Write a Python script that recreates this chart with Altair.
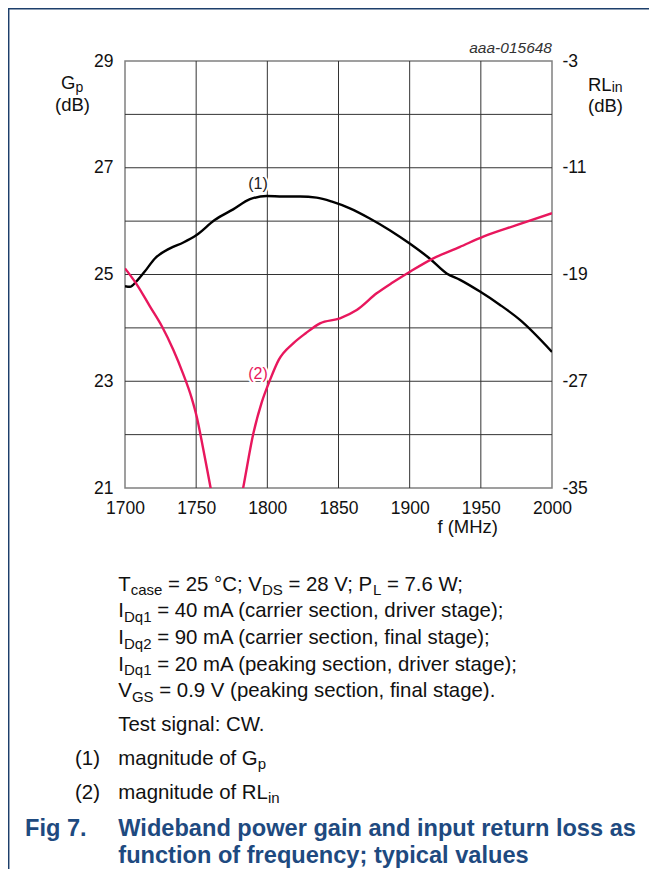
import altair as alt
import pandas as pd

# ---------------- data ----------------
gp_freq = [1700, 1703.5, 1708, 1714, 1721, 1731.6, 1741, 1750.3, 1763, 1776, 1787.8,
           1799.5, 1811, 1823, 1834.6, 1846, 1858, 1872, 1886, 1900, 1914, 1926,
           1935.4, 1949.4, 1963.5, 1977.5, 2000]
gp_db = [24.78, 24.77, 24.87, 25.06, 25.30, 25.49, 25.60, 25.74, 26.02, 26.22, 26.41,
         26.47, 26.46, 26.46, 26.44, 26.36, 26.24, 26.05, 25.83, 25.58, 25.30, 25.02,
         24.90, 24.68, 24.43, 24.15, 23.55]

rl_freq = [1700, 1708, 1717.6, 1726, 1734, 1740.5, 1746.9, 1750.4, 1755, 1760, 1771.5,
           1783, 1790.2, 1796, 1801.9, 1808, 1818.2, 1827, 1837, 1851, 1862.8, 1876.8,
           1888, 1900.2, 1916.6, 1935, 1951.7, 1975, 2000]
rl_db = [-18.54, -19.7, -21.41, -22.9, -24.66, -26.35, -28.28, -29.66, -32.1, -34.9, -41.0,
         -35.0, -30.9, -28.6, -26.9, -25.4, -24.16, -23.4, -22.66, -22.28, -21.66, -20.41,
         -19.6, -18.79, -17.79, -16.95, -16.16, -15.3, -14.41]

x_ticks = [1700, 1750, 1800, 1850, 1900, 1950, 2000]
gp_ticks = [21, 23, 25, 27, 29]
rl_ticks = [-35, -27, -19, -11, -3]
x_grid = [1750, 1800, 1850, 1900, 1950]
y_grid = [22, 23, 24, 25, 26, 27, 28]

caption_lines = [
    [("T", "n"), ("case", "s"), (" = 25 \u00b0C; V", "n"), ("DS", "s"),
     (" = 28 V; P", "n"), ("L", "s"), (" = 7.6 W;", "n")],
    [("I", "n"), ("Dq1", "s"), (" = 40 mA (carrier section, driver stage);", "n")],
    [("I", "n"), ("Dq2", "s"), (" = 90 mA (carrier section, final stage);", "n")],
    [("I", "n"), ("Dq1", "s"), (" = 20 mA (peaking section, driver stage);", "n")],
    [("V", "n"), ("GS", "s"), (" = 0.9 V (peaking section, final stage).", "n")],
    [("Test signal: CW.", "n")],
    [("magnitude of G", "n"), ("p", "s")],
    [("magnitude of RL", "n"), ("in", "s")],
]
caption_baselines = [529.7, 556.3, 583.0, 609.7, 636.2, 670.0, 703.5, 737.5]
note_marks = [("(1)", 703.5), ("(2)", 737.5)]
fig_label = "Fig 7."
fig_title = ["Wideband power gain and input return loss as",
             "function of frequency; typical values"]
fig_baselines = [775.0, 801.5]

# ---------------- style / layout ----------------
FONT = "Liberation Sans"
NAVY = "#1e4a80"
PINK = "#e8175d"
W = H = 427
PAD_L, PAD_T = 117, 53
TOTAL_W, TOTAL_H = 641, 861
BODY = 20.4
SUB = 15
BOLD = 23.6

# Arial / Liberation Sans advance widths (per 1000 em)
AW = {' ': 278, '(': 333, ')': 333, ';': 278, ':': 278, '.': 278, ',': 278, '=': 584,
      '\u00b0': 400, '-': 333}
for ch in "0123456789":
    AW[ch] = 556
AW.update(dict(zip("ABCDEFGHIJKLMNOPQRSTUVWXYZ",
                   [667, 667, 722, 722, 667, 611, 778, 722, 278, 500, 667, 556, 833,
                    722, 778, 667, 778, 722, 667, 611, 722, 667, 944, 667, 667, 611])))
AW.update(dict(zip("abcdefghijklmnopqrstuvwxyz",
                   [556, 556, 500, 556, 556, 278, 556, 556, 222, 222, 500, 222, 833,
                    556, 556, 556, 556, 333, 500, 278, 556, 500, 722, 500, 500, 500])))


def text_width(s, size):
    return sum(AW.get(c, 556) for c in s) * size / 1000.0


dummy = pd.DataFrame({"d": [0]})


def txt(s, x, y, size, color="#111111", weight="normal", align="left", style="normal",
        stroke=None):
    kw = dict(text=s, fontSize=size, font=FONT, color=color, align=align,
              baseline="alphabetic", fontWeight=weight, fontStyle=style)
    if stroke:
        kw.update(stroke=stroke, strokeWidth=4, strokeJoin="round")
    return alt.Chart(dummy).mark_text(**kw).encode(x=alt.value(x), y=alt.value(y))


xs = alt.Scale(domain=[1700, 2000], nice=False, zero=False)
gs = alt.Scale(domain=[21, 29], nice=False, zero=False)
rs = alt.Scale(domain=[-35, -3], nice=False, zero=False)

common = dict(grid=False, ticks=False, tickSize=0, domain=False, labelFlush=False,
              labelFontSize=17.5, labelExpr="'' + datum.value")
x_axis = alt.Axis(values=x_ticks, labelPadding=11, **common)
gp_axis = alt.Axis(values=gp_ticks, labelPadding=12, orient="left", **common)
rl_axis = alt.Axis(values=rl_ticks, labelPadding=10, orient="right", **common)

gp_df = pd.DataFrame({"f": gp_freq, "g": gp_db})
rl_df = pd.DataFrame({"f": rl_freq, "r": rl_db})

hgrid = alt.Chart(pd.DataFrame({"v": y_grid})).mark_rule(color="#333333", strokeWidth=1).encode(
    y=alt.Y("v:Q", scale=gs, axis=gp_axis, title=""))
vgrid = alt.Chart(pd.DataFrame({"v": x_grid})).mark_rule(color="#333333", strokeWidth=1).encode(
    x=alt.X("v:Q", scale=xs, axis=x_axis, title=""))
black = alt.Chart(gp_df).mark_line(color="black", strokeWidth=2.4, clip=True,
                                   interpolate="monotone").encode(
    x=alt.X("f:Q", scale=xs, axis=x_axis, title=""),
    y=alt.Y("g:Q", scale=gs, axis=gp_axis, title=""))
left = alt.layer(hgrid, vgrid, black)

pink = alt.Chart(rl_df).mark_line(color=PINK, strokeWidth=2.4, clip=True,
                                  interpolate="monotone").encode(
    x=alt.X("f:Q", scale=xs, axis=x_axis, title=""),
    y=alt.Y("r:Q", scale=rs, axis=rl_axis, title=""))
right = alt.layer(pink)

texts = []
# annotations inside plot
texts.append(txt("(1)", 133, 128, 16, color="#222222", align="center", stroke="white"))
texts.append(txt("(1)", 133, 128, 16, color="#222222", align="center"))
texts.append(txt("(2)", 133, 318, 16, color=PINK, align="center", stroke="white"))
texts.append(txt("(2)", 133, 318, 16, color=PINK, align="center"))
# code
texts.append(txt("aaa-015648", 427, -8, 15.5, color="#333333", align="right", style="italic"))
# axis titles
texts.append(txt("G", -64, 28, 18.5))
texts.append(txt("p", -64 + text_width("G", 18.5), 31, 14))
texts.append(txt("(dB)", -35, 50, 18.5, align="right"))
texts.append(txt("RL", 463, 29.5, 18.5))
texts.append(txt("in", 463 + text_width("RL", 18.5), 31, 14))
texts.append(txt("(dB)", 463, 50.5, 18.5))
texts.append(txt("f (MHz)", 373, 471.5, 18.5, align="right"))

# caption body (segments laid out with font metrics; leading spaces become offsets)
X0 = -6.7
for segs, base in zip(caption_lines, caption_baselines):
    x = X0
    for s, kind in segs:
        size = BODY if kind == "n" else SUB
        y = base if kind == "n" else base + 4.5
        lead = len(s) - len(s.lstrip(" "))
        texts.append(txt(s.strip(" "), x + text_width(" " * lead, size), y, size))
        x += text_width(s, size)
for s, base in note_marks:
    texts.append(txt(s, -50, base, BODY))

texts.append(txt(fig_label, -100, fig_baselines[0], BOLD, color=NAVY, weight="bold"))
texts.append(txt(fig_title[0], X0, fig_baselines[0], BOLD, color=NAVY, weight="bold"))
texts.append(txt(fig_title[1], X0, fig_baselines[1], BOLD, color=NAVY, weight="bold"))

# page frame lines (left and top)
frame_left = alt.Chart(dummy).mark_rule(color="#1d3f6b", strokeWidth=1.5).encode(
    x=alt.value(-116.3), y=alt.value(-53), y2=alt.value(TOTAL_H - PAD_T))
frame_top = alt.Chart(dummy).mark_rule(color="#1d3f6b", strokeWidth=1.5).encode(
    x=alt.value(-117), x2=alt.value(TOTAL_W - PAD_L), y=alt.value(-52.3))

chart = alt.layer(left, right, frame_left, frame_top, *texts).resolve_scale(
    y="independent"
).properties(
    width=W, height=H,
    padding={"left": PAD_L, "top": PAD_T, "right": TOTAL_W - PAD_L - W,
             "bottom": TOTAL_H - PAD_T - H},
    autosize=alt.AutoSizeParams(type="none"),
    background="white",
).configure_view(
    stroke="#808080", strokeWidth=1.5
).configure_axis(
    labelFont=FONT, labelColor="#111111"
)

chart.save("out.html", embed_options={"renderer": "svg", "actions": False})
